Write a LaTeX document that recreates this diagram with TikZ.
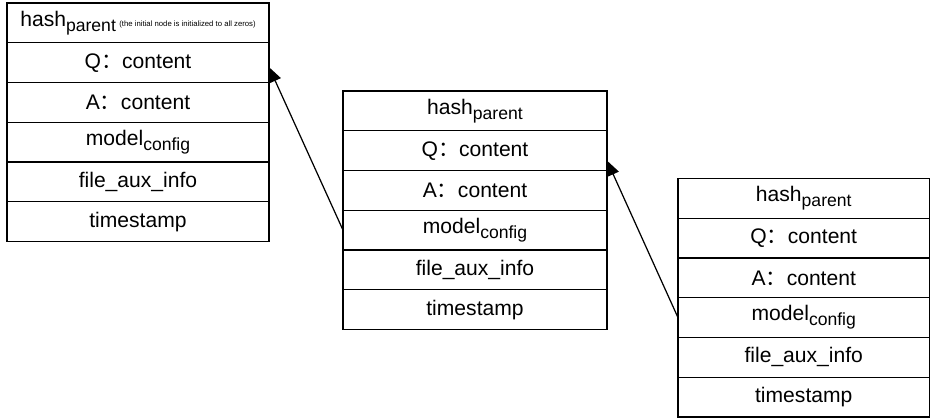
\documentclass[tikz,border=0pt]{standalone}
\usepackage{fontspec}
\setmainfont{Liberation Sans}
\newfontfamily\cjk{Noto Sans CJK SC}
\usetikzlibrary{positioning,arrows.meta}

\newcommand{\lowtext}[1]{\raisebox{-0.45ex}{\fontsize{10}{10}\selectfont #1}}
\newcommand{\fwcolon}{{\cjk ：}}

\tikzset{
  cell/.style={draw, line width=0.7pt, minimum height=0.795cm, inner sep=0pt, outer sep=0pt,
    font=\fontsize{12}{14}\selectfont},
  link/.style={-{Triangle[length=8.5pt,width=7pt]}, line width=0.7pt},
}

\begin{document}
\begin{tikzpicture}
    \useasboundingbox (0,0) rectangle (18.62,-8.36);

    % first block
    \node[cell, minimum width=5.24cm, anchor=north west] (h1) at (0.14,-0.06)
        {hash\lowtext{parent}\,{\fontsize{4.4}{5}\selectfont (the initial node is initialized to all zeros)}};
    \node[cell, minimum width=5.24cm, below=0pt of h1] (q1) {Q\fwcolon content};
    \node[cell, minimum width=5.24cm, below=0pt of q1] (a1) {A\fwcolon content};
    \node[cell, minimum width=5.24cm, below=0pt of a1] (m1) {model\lowtext{config}};
    \node[cell, minimum width=5.24cm, below=0pt of m1] (f1) {file\_aux\_info};
    \node[cell, minimum width=5.24cm, below=0pt of f1] (t1) {timestamp};

    % second block
    \node[cell, minimum width=5.28cm, anchor=north west] (h2) at (6.86,-1.82) {hash\lowtext{parent}};
    \node[cell, minimum width=5.28cm, below=0pt of h2] (q2) {Q\fwcolon content};
    \node[cell, minimum width=5.28cm, below=0pt of q2] (a2) {A\fwcolon content};
    \node[cell, minimum width=5.28cm, below=0pt of a2] (m2) {model\lowtext{config}};
    \node[cell, minimum width=5.28cm, below=0pt of m2] (f2) {file\_aux\_info};
    \node[cell, minimum width=5.28cm, below=0pt of f2] (t2) {timestamp};

    % third block
    \node[cell, minimum width=5.03cm, anchor=north west] (h3) at (13.56,-3.57) {hash\lowtext{parent}};
    \node[cell, minimum width=5.03cm, below=0pt of h3] (q3) {Q\fwcolon content};
    \node[cell, minimum width=5.03cm, below=0pt of q3] (a3) {A\fwcolon content};
    \node[cell, minimum width=5.03cm, below=0pt of a3] (m3) {model\lowtext{config}};
    \node[cell, minimum width=5.03cm, below=0pt of m3] (f3) {file\_aux\_info};
    \node[cell, minimum width=5.03cm, below=0pt of f3] (t3) {timestamp};

    % links back to the parent
    \draw[link] (m2.west) -- ([yshift=-0.09cm]q1.east);
    \draw[link] (m3.west) -- ([yshift=-0.2cm]q2.east);

\end{tikzpicture}
\end{document}
